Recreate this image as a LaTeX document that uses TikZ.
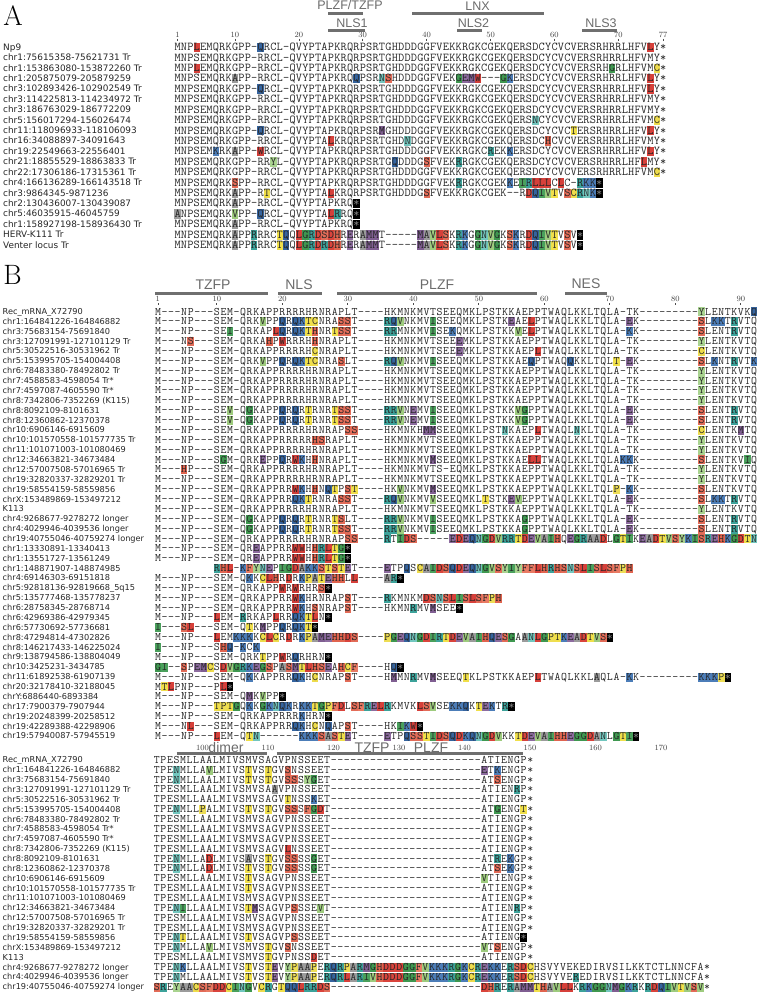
\documentclass[tikz,border=0pt]{standalone}
\usepackage{fontspec}
\usepackage{tikz}
\newfontfamily\lblfont{DejaVu Sans}
\newfontfamily\hdrfont{Liberation Sans}

% residue colours (lower case letter in a row = highlighted residue)
\definecolor{hla}{HTML}{9B9B9B}
\definecolor{hlc}{HTML}{EEDC4C}
\definecolor{hld}{HTML}{D9443C}
\definecolor{hle}{HTML}{8D6C9F}
\definecolor{hlf}{HTML}{E87A63}
\definecolor{hlg}{HTML}{3F9850}
\definecolor{hlh}{HTML}{E0644F}
\definecolor{hli}{HTML}{4AA05C}
\definecolor{hlk}{HTML}{4C7DB8}
\definecolor{hll}{HTML}{D6403A}
\definecolor{hlm}{HTML}{7F5E91}
\definecolor{hln}{HTML}{72C6BE}
\definecolor{hlp}{HTML}{EDDD55}
\definecolor{hlq}{HTML}{35649F}
\definecolor{hlr}{HTML}{3CA29A}
\definecolor{hls}{HTML}{E36C58}
\definecolor{hlt}{HTML}{F0DF4A}
\definecolor{hlv}{HTML}{9ECB7E}
\definecolor{hlw}{HTML}{CF3D38}
\definecolor{hly}{HTML}{A9D38F}
\definecolor{barc}{HTML}{6F6F6F}

% one alignment row: ! = stop box, 0 = empty cell
\newlength\cw
\newlength\hlraise
\newlength\hlht
\def\alstop{\alstop}
\newcommand\alrow[1]{\alloop#1\alstop}
\def\alloop#1{\ifx#1\alstop\else\alchar#1\expandafter\alloop\fi}
\newcommand\alchar[1]{%
  \ifnum`#1>96\relax\alhl{#1}%
  \else\ifx#1!\alblk
  \else\ifx#10\hbox to\cw{}%
  \else\hbox to\cw{\hss#1\hss}\fi\fi\fi}
\newcommand\alhl[1]{\rlap{\color{hl#1}\rule[\hlraise]{\cw}{\hlht}}\hbox to\cw{\hss\uppercase{#1}\hss}}
\newcommand\alblk{\rlap{\color{black}\rule[\hlraise]{\cw}{\hlht}}\hbox to\cw{\hss\color{black!50}*\hss}}
\newcommand\bbase{M---NP---SEM-QRKAPPRRRRHRNRAPLT----HKMNKMVTSEEQMKLPSTKKAEPPTWAQLKKLTQLA-TK---------yLENTKVTQ}
\newcommand\lbase{TPESMLLAALMIVSMVSAGVPNSSEET}
\newcommand\ldash{-----------------------}
\newcommand\lend{ATIENGP*}

\tikzset{
  lblA/.style={anchor=base west,inner sep=0pt,text=black!85,font=\lblfont\fontsize{8.9}{10}\selectfont},
  lblB/.style={lblA,font=\lblfont\fontsize{8.2}{10}\selectfont},
  seqA/.style={anchor=base west,inner sep=0pt,text=black!85,
    font=\ttfamily\fontsize{12}{12}\selectfont\setlength\cw{6.39pt}\setlength\hlraise{-1.4pt}\setlength\hlht{9.4pt}},
  seqB/.style={seqA,
    font=\ttfamily\fontsize{11.5}{12}\selectfont\setlength\cw{6.55pt}\setlength\hlraise{-1.4pt}\setlength\hlht{9pt}},
  hdr/.style={inner sep=0pt,text=black!58,font=\hdrfont\fontsize{12.5}{13}\selectfont},
  hdrB/.style={hdr,font=\hdrfont\fontsize{14}{14}\selectfont},
  num/.style={inner sep=0pt,text=black!75,font=\rmfamily\fontsize{8}{8}\selectfont},
  bar/.style={draw=barc,line width=3pt},
  tick/.style={draw=black!70,line width=0.6pt},
  panel/.style={inner sep=0pt,font=\rmfamily\fontsize{28}{28}\selectfont}
}

\begin{document}
\begin{tikzpicture}[x=1pt,y=-1pt]
\useasboundingbox (0,0) rectangle (759,992);

% ---- panel A
\node[panel] (pA) at (13,16) {A};
\node[hdr] (hPT) at (350,5.5) {PLZF/TZFP};
\node[hdr] (hLNX) at (477.5,6) {LNX};
\node[hdr] (hN1) at (352,23) {NLS1};
\node[hdr] (hN2) at (473.5,23) {NLS2};
\node[hdr] (hN3) at (601,23) {NLS3};
\draw[bar] (328,13.3) -- (363,13.3);
\draw[bar] (412,13.3) -- (544,13.3);
\draw[bar] (328,30.5) -- (365,30.5);
\draw[bar] (457,30.5) -- (482,30.5);
\draw[bar] (582,30.5) -- (617,30.5);
\foreach \k in {1,10,20,30,40,50,60,70,77}{
  \node[num] (na\k) at ({177.4+(\k-1)*6.39},35) {\k};
  \draw[tick] ({177.4+(\k-1)*6.39},38.6) -- ({177.4+(\k-1)*6.39},40.6);
}
\foreach \nm/\sq [count=\i] in {
Np9/MNPlEMQRKGPP-qRCL-QVYPTAPKRQRPSRTGHDDDGGFVEKKRGKCGEKQERSDCYCVCVERSRHRRLHFVlY*,
chr1:75615358-75621731 Tr/MNPSEMQRKGPP-RRCL-QVYPTAPKRQRPSRTGHDDDGGFVEKKRGKCGEKQERSDCYCVCVERSRHRRLHFVMY*,
chr1:153863080-153872260 Tr/MNPlEMQRKGPP-RRCL-QVYPTAPKRQRPSRTGHDDDGGFVEKKRGKCGEKQERSDCYCVCVERSRHgRLHFVMc*,
chr1:205875079-205879259/MNPSEMQRKaPP-RRCL-QVYPTAPKRQqPSRnsHDDDGGFVEKgemw---gkERSDCYCVCVERSRHRRLHFVlY*,
chr3:102893426-102902549 Tr/MNPSEMQRKGPP-qRCL-QVYPTAPKRQRPSRTGHDDDGGFVEKKRGKCGEKQERSDCYCVCVERSRHRRLHFVlY*,
chr3:114225813-114234972 Tr/MNPSEMQRKGPP-RRCL-QVYPTAPKRQRPSRTGHDDDGGFVEKKRGKCGEKQERSDCYCVCVERSRHRRLHFVMY*,
chr3:186763029-186772209/MNPSEMQRKGPP-RRCL-QVYPTAPKRQRPSRTGHDDDGGFVEKKRGKCGEKQERSDCYCVCVERSRHRRLHFVMY*,
chr5:156017294-156026474/MNPSEMQRKGPP-RRCL-QVYPTAPKRQRPSRTGHDDDGGFVEKKRGKCGEKQERSnCYCVCVERSRHRRLHFVMc*,
chr11:118096933-118106093/MNPSEMQRKGPP-qRCL-QVYPTAPKRQRPSRmGHDDDGGFVEKKRGKCGEKQERSDCYCVCtERSRHRRLHFVlY*,
chr16:34088897-34091643/MNPSEMQRKGPP-RRCL-QVYPTAlKRQRPSRTGHDnDGGFVEKKRGKCGEKQERSDChCVCVERSRHRRLHFVMY*,
chr19:22549663-22556401/MNPSEMkRKaPP-wRCL-QVYPTAPKRQRPSRTGHDDDGGFVEKKRGKCrEKkERSDCYCVCVERSRHRRLHFVlY*,
chr21:18855529-18863833 Tr/MNPSEMQRKGPP-RRyL-QVYPTAPKRQRPSRTGqDDDGsFVEKrRGKCGEKQERSDCYCVCVERSRHRRLHFlMY*,
chr22:17306186-17315361 Tr/MNPSEMQRKGPP-RRCL-QVYPTAPKRQRPSRTGHDDDGGFVEKKRGKCGEKQERSDCYCVCVERSRHRRLHFVMc*,
chr4:166136289-166143518 Tr/MNPSEMQRKsPP-RRCL-QVYPTAPKRQRPSRTGHDDDGGFVEKrRGKCGEKkEirlllClC-rkk!,
chr3:9864345-9871236/MNPSEMQRKaPP-RtCL-QVYPTAlKRQRPSRTGHDDDGsFVEKKRGKCGEK--RdqivtVscrnk!,
chr2:130436007-130439087/MNPSEMQRKaPP-RRCL-QVYPTAPKRQ!,
chr5:46035915-46045759/aNPSEMQRKvPP-qRCL-QVYPTAlrRQ!,
chr1:158927198-158936430 Tr/MNPSEMQRKaPP-RRCL-QVYPTAPKRQ!,
HERV-K111 Tr/MNPSEMQRKaPPrRRCtqQlgrdsdhReRammT-----mavlsKrkGgnvgKskRdqivtVsV!,
Venter locus Tr/MNPSEMQRKaPPrRRCtqQlgrdrdhReRammT-----mavlsKrkGgnvgKskRdqivtVsV!}{
  \node[lblA] (la\i) at (3,{50.2+(\i-1)*10.42}) {\nm};
  \node[seqA] (sa\i) at (174.2,{50.7+(\i-1)*10.42}) {\edef\alseq{\sq}\expandafter\alrow\expandafter{\alseq}};
}

% ---- panel B, first block
\node[panel] (pB) at (12.5,275) {B};
\node[hdrB] (hTZ) at (213,285) {TZFP};
\node[hdrB] (hNLS) at (299,285) {NLS};
\node[hdrB] (hPL) at (437,285) {PLZF};
\node[hdrB] (hNES) at (586,284) {NES};
\draw[bar] (155,293.3) -- (268,293.3);
\draw[bar] (278,293.3) -- (322,293.3);
\draw[bar] (337,293.3) -- (537,293.3);
\draw[bar] (565,293.3) -- (607,293.3);
\foreach \k in {1,10,20,30,40,50,60,70,80,90}{
  \node[num] (nb\k) at ({157.8+(\k-1)*6.55},298.5) {\k};
  \draw[tick] ({157.8+(\k-1)*6.55},303) -- ({157.8+(\k-1)*6.55},305);
}
\foreach \nm/\sq [count=\i] in {
Rec\_mRNA\_X72790/M---NP---SEM-QRKAPPRRRRHRNRAPLT----HKMNKMVTSEEQMKLPSTKKAEPPTWAQLKKLTQLA-TK---------yLENTKVKq,
chr1:164841226-164846882/M---NP---SEM-QRKvPPqRqktcNRAssT----rqvNKMViSEEQMKLPSTKeAElPTWAQLKKLTQLA-eK---------sLkkTrVTQ,
chr3:75683154-75691840/M---NP---SEi-QRKAPlqRqkthNRtssT----rrMNKMViSEkQMKLPSTKKvElPTWAQLKKLTQLA-kK---------sLENTrVTQ,
chr3:127091991-127101129 Tr/M---Ns---SEM-QRKAhPwRRRHhNRAPLT----HKMNKMVTSEEeMKLPSTKKAEPPTWAQLKKLTQLA-TK---------yLENTKVTQ,
chr5:30522516-30531962 Tr/M---NP---SEM-QRKAPPRRRRHcNRAPLT----HKMNKMVTSEEeMKLPSTKKAEPlTWAQLKKLTQLA-TK---------cLENTKVTQ,
chr5:153995705-154004408/M---NP---SEM-QRKvPPqRqktcNRAsLT----rqvNKMViSEEQMKLPSTKKAEqPTWAQqKKLTQLt-eK---------sLkNTrVTk,
chr6:78483380-78492802 Tr/\bbase,
chr7:4588583-4598054 Tr*/\bbase,
chr7:4597087-4605590 Tr*/\bbase,
chr8:7342806-7352269 (K115)/\bbase,
chr8:8092109-8101631/M---NP---SEv-QgKAPPqRqRtRNRtssT----rrvNeMViSEEQMKLPSTKKvgPPTWAQLKKLTQLA-eK---------sLENTrVTQ,
chr8:12360862-12370378/M---NP---SEv-QgKAPPqRqRtRNRtssT----rrvNeMViSEEQMKLPSTKKvgPPTWAQLKKLTQLA-eK---------sLENTrVTQ,
chr10:6906146-6915609/M---NP---SEM-QRKAPPRRRRHRNRAPss----HKMNKHmmSEEQMKLPSTnKAEPlTWAQLnKLTQLA-TK---------cLENTKmTQ,
chr10:101570558-101577735 Tr/M---NP---SEM-QRKAPPRRRRRhsRAPLT----HKMNKMVTSEEQMKLPSTKKAEPPTWAQLKKLTQLA-TK---------yLENTKVTQ,
chr11:101071003-101080469/\bbase,
chr12:34663821-34673484/M---NP---SgM-QRKePPqRwkHhNRAPLT----HKMNKMVmSEEQMKLPSTKKAEllTWAQLKKLTQLAkkK---------sLENTKViQ,
chr12:57007508-57016965 Tr/M---hP---SEM-QRKAPPRRRRHRNRAPLT----HKMNKMVTS-EQMKLPSTKKAEPPTWAQLKKLTQLA-TK---------yLENTKVTQ,
chr19:32820337-32829201 Tr/\bbase,
chr19:58554159-58559856/M---NP---SEM-QRKAPPRRwkHhNqtPst----HKvNKMVmSEEQMKLPSTKKAEPPTWAQLKKLTQLp-kK---------sLENTKVTQ,
chrX:153489869-153497212/M---NP---SEM-QRKAPPRRqktRNRAssT----rqvNKMVvSEEQMKLtSTKevEPPTWAQLKKLTQLA-eK---------sLkkTrVTQ,
K113/\bbase,
chr4:9268677-9278272 longer/M---NP---SEM-QgKAPPqRqRtRNRtsLT----rrvNKMViSEEQMKLPSTKKAgPPTWAQLKKLTQLA-eK---------sLENTrVTQ,
chr4:4029946-4039536 longer/M---NP---SEM-QgKAPPqRqRtRNRtssT----rrvNKMViSEEQMKLPSTKKAgPPTWAQLKKLTQLA-eK---------sLENTrVTQ,
chr19:40755046-40759274 longer/M---NP---SEM-QRKAPPRRRRHRNRAPss----rTids-----edeqngdvrrtdevaihQegraadLgtiKeadtvsykisrehkgdtn,
chr1:13330891-13340413/M---NP---SEM-QReAPPRRwwHhrltg!,
chr1:13551727-13561249/M---NP---SEM-QReAPPRRwwHhrltg!,
chr1:148871907-148874985/000000000rhl-kfynePigdakkststeT----eTPqScaidsqdeqngvsyiyfflhrhsnslislsfph,
chr4:69146303-69151818/M---NP---SEM-QkKclhRdRkpatehhLl----ar!,
chr5:92818136-92819668\_5q15/M---NP---SEM-QRKAPPwRwRHRs!,
chr5:135777468-135778237/M---NP---SEM-QRKAPPRRwkHRNRAPsT----rKMNKMdsnslislsfph,
chr6:28758345-28768714/M---NP---SEM-QRKAPPRRwkHsNRAPsT----HKMNrMVmSEE!,
chr6:42969386-42979345/M---NP---lEM-rRKAPlRRqktlN!,
chr6:57730692-57736681/i---sl---SEM-QtKmPPqRqkt!,
chr8:47294814-47302826/M---NP---lEMkkkKclcRdRkpamehhds----pgeqngdirtdevaihqesgAanlgptkeadtvs!,
chr8:146217433-146225024/i---NP---Shq-kCk,
chr9:138794586-138804049/M---NP---SEM-QRKtPPwRqRHRN!,
chr10:3425231-3434785/gi--sPemcSdvgrkegsPasmtlhseAhcf----Hq!,
chr11:61892538-61907139/M---NP---SEM-QkKAPPRRqkHcNRAPsT----HmMNrMVmSEEQtKLPSTKKAEPlTWAQLKKLaQLA-kK---------kkkp!,
chr20:32178410-32188045/MtlPNP---Pl!,
chrY:6886440-6893384/M---NP---SEM-QmKvPP!,
chr17:7900379-7907944/M---NP---tptgQkKgknqkRkktgpfdLsfrelrKMVKlsvSEkkqKtekTr!,
chr19:20248399-20258512/M---NP---SEM-QRKAPPRRRkHRN!,
chr19:42289388-42298906/M---Nl---SEM-QRKAPPRRqkHcNqAPsT----HKikw!,
chr19:57940087-57945519/M---NP---lEM-Qtn------kkksasteT----eTPqsstidsqdkqngdvKKtdevaihheggdanLgti!}{
  \node[lblB] (lb\i) at (2.5,{314.5+(\i-1)*9.87}) {\nm};
  \node[seqB] (sb\i) at (154.5,{315+(\i-1)*9.87}) {\edef\alseq{\sq}\expandafter\alrow\expandafter{\alseq}};
}

% ---- panel B, second block
\node[hdrB] (hDim) at (226,747.8) {dimer};
\node[hdrB] (hTZ2) at (372,747.8) {TZFP};
\node[hdrB] (hPL2) at (431,747.8) {PLZF};
\draw[bar] (176.7,753.2) -- (266.7,753.2);
\draw[bar] (276.7,753.2) -- (523,753.2);
\foreach \k in {100,110,120,130,140,150,160,170}{
  \node[num] (nc\k) at ({156.7+(\k-93)*6.55},747.8) {\k};
}
\foreach \nm/\sq [count=\i] in {
Rec\_mRNA\_X72790/\lbase\ldash\lend,
chr1:164841226-164846882/TPEnMLLAvLMIVStVStGVsNSSEET\ldash eTkENGP*,
chr3:75683154-75691840/TPEnMLLAALMIVStVStGVssSygET\ldash ATsENGP*,
chr3:127091991-127101129 Tr/TPESMLLAALMIVSMVSAaVPNSSEET\ldash ATIENrP*,
chr5:30522516-30531962 Tr/TPESMLLAALMIVSMVSAGVtNSSkET\ldash\lend,
chr5:153995705-154004408/TPEnMLLpALMIVStVStGVssSfgdT\ldash ATgENGt*,
chr6:78483380-78492802 Tr/\lbase\ldash\lend,
chr7:4588583-4598054 Tr*/\lbase\ldash\lend,
chr7:4597087-4605590 Tr*/\lbase\ldash\lend,
chr8:7342806-7352269 (K115)/TPESMLLAALMIVSMVSAGVlNSSEET\ldash\lend,
chr8:8092109-8101631/TPEnMLLAdLMIVSaVStGVssSSgET\ldash ATrEkGP*,
chr8:12360862-12370378/TPEnMLLAdLMIVStVStGVssSSgET\ldash ATsEkGP*,
chr10:6906146-6915609/TPESMLLAALMIVStVSAGVPNSSEET\ldash vTIENGP*,
chr10:101570558-101577735 Tr/TPESMLLAALMIVStVSAGVPNSSEET\ldash\lend,
chr11:101071003-101080469/\lbase\ldash\lend,
chr12:34663821-34673484/TPEniLLAALMIVStmSAGVPsSSEvT\ldash ATIENrP*,
chr12:57007508-57016965 Tr/\lbase\ldash\lend,
chr19:32820337-32829201 Tr/\lbase\ldash\lend,
chr19:58554159-58559856/TPEntLLAALMIVStVSAGVPsSSEET\ldash ATIENG!,
chrX:153489869-153497212/TPEnMLLAvLMIVSMVStGVsNSSEET\ldash vTsENGP*,
K113/TPESMLLAALMIVSMVStGVPNSSdET\ldash\lend,
chr4:9268677-9278272 longer/TPEnkLLAALMIVStVSteVypaapErqrparmghdddggfvkkkrgkcrekkErsdcHSVYVEKEDIRVSILKKTCTLNNCFA*,
chr4:4029946-4039536 longer/TPEnMLLAALMIVStVSteVypaapErqrlarivhdddggfvkkkrgkcrekkErsdcHSVYVErEDIRVSILKKTCTLNNCFA*,
chr19:40755046-40759274 longer/srEyaacsfddcingVcrGtqqlrrds\ldash dhrErammthavllKrkggnmgkrKrdqivtvsv*}{
  \node[lblB] (lc\i) at (2.5,{762.8+(\i-1)*9.87}) {\nm};
  \node[seqB] (sc\i) at (153.4,{763.3+(\i-1)*9.87}) {\edef\alseq{\sq}\expandafter\alrow\expandafter{\alseq}};
}
\end{tikzpicture}
\end{document}
